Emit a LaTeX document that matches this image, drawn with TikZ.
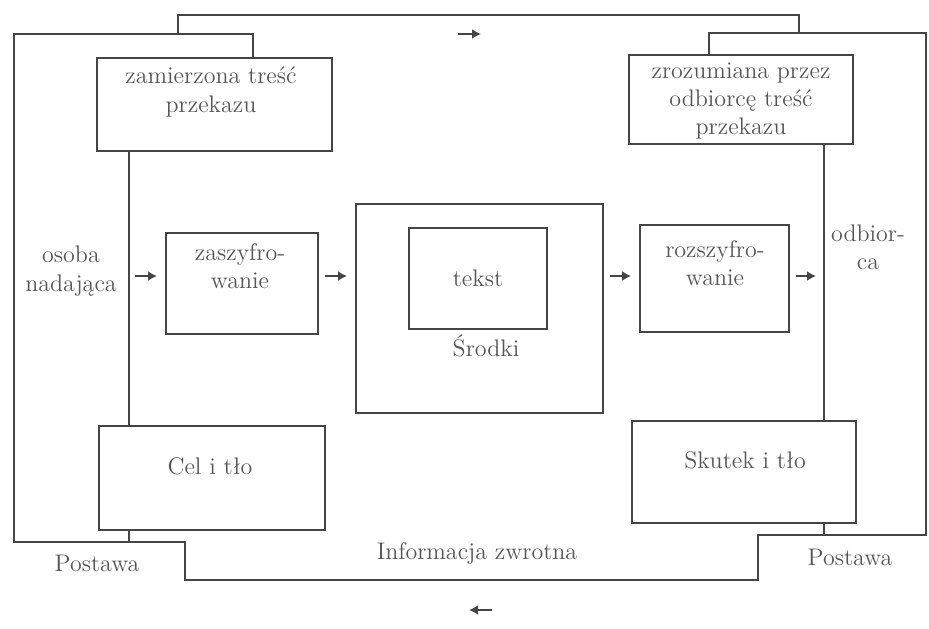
\documentclass[tikz,border=0pt]{standalone}
\usepackage{fontspec}
\usepackage{tikz}
\usepackage{xcolor}
\usetikzlibrary{fit,arrows.meta}
\definecolor{ink}{HTML}{555555}
\definecolor{wire}{HTML}{454545}
\tikzset{
    plain-box/.style = {draw=wire, line width=1pt, rectangle, inner sep=0pt},
    box-text/.style = {text=ink, align=center, font=\fontsize{12}{14.2}\selectfont, inner sep=0pt},
    frame-line/.style = {draw=wire, line width=1pt, line join=miter},
    flow-arrow/.style = {draw=wire, line width=1.3pt, -{Latex[length=4.5pt,width=5pt]}, shorten <=3pt, shorten >=4pt},
    hint-arrow/.style = {draw=wire, line width=1.3pt, -{Latex[length=4.5pt,width=5pt]}},
}

\begin{document}
\begin{tikzpicture}[x=0.5pt, y=-0.5pt]
\useasboundingbox (0,0) rectangle (929,628);

\node[plain-box, fit={(97,58) (332,151)}] (intent) {};
\node[plain-box, fit={(629,55) (853,144)}] (understood) {};
\node[plain-box, fit={(99,426) (325,530)}] (goal) {};
\node[plain-box, fit={(632,421) (856,523)}] (effect) {};
\node[plain-box, fit={(166,233) (318,334)}] (encode) {};
\node[plain-box, fit={(356,204) (603,413)}] (media) {};
\node[plain-box, fit={(409,228) (547,329)}] (message) {};
\node[plain-box, fit={(640,225) (789,332)}] (decode) {};

\node[box-text] (intent-txt) at (211,92) {zamierzona treść\\przekazu};
\node[box-text] (understood-txt) at (741,101) {zrozumiana przez\\odbiorcę treść\\przekazu};
\node[box-text] (goal-txt) at (210,466) {Cel i tło};
\node[box-text] (effect-txt) at (745,460) {Skutek i tło};
\node[box-text] (encode-txt) at (240,266) {zaszyfro-\\wanie};
\node[box-text] (decode-txt) at (715,263) {rozszyfro-\\wanie};
\node[box-text] (message-txt) at (message.center) {tekst};
\node[box-text] (media-txt) at (486,346) {Środki};
\node[box-text] (sender-txt) at (71,271) {osoba\\nadająca};
\node[box-text] (receiver-txt) at (868,247) {odbior-\\ca};
\node[box-text] (attitude-l) at (97,563) {Postawa};
\node[box-text] (attitude-r) at (850,557) {Postawa};
\node[box-text] (feedback-txt) at (477,553) {Informacja zwrotna};

\coordinate (corner-l) at (253,34);
\coordinate (nw) at (14,34);
\coordinate (sw) at (14,542);
\coordinate (step-l1) at (185,542);
\coordinate (step-l2) at (185,580);
\coordinate (step-r2) at (758,580);
\coordinate (step-r1) at (758,535);
\coordinate (se) at (926,535);
\coordinate (ne) at (926,33);
\coordinate (corner-r) at (709,33);
\coordinate (loop-l) at (178,15);
\coordinate (loop-r) at (799,15);
\coordinate (sender) at (129,542);
\coordinate (receiver) at (824,535);
\coordinate (flow) at (0,276);
\coordinate (fwd-a) at (458,34);
\coordinate (fwd-b) at (481,34);
\coordinate (back-a) at (492,610);
\coordinate (back-b) at (469,610);

\draw[frame-line] (intent.north -| corner-l) -- (corner-l) -- (nw) -- (sw) -- (step-l1) -- (step-l2)
    -- (step-r2) -- (step-r1) -- (se) -- (ne) -- (corner-r) -- (understood.north -| corner-r);
\draw[frame-line] (loop-l |- nw) -- (loop-l) -- (loop-r) -- (loop-r |- ne);
\draw[frame-line] (intent.south -| sender) -- (goal.north -| sender);
\draw[frame-line] (goal.south -| sender) -- (sender);
\draw[frame-line] (understood.south -| receiver) -- (effect.north -| receiver);
\draw[frame-line] (effect.south -| receiver) -- (receiver);

\draw[flow-arrow] (sender |- flow) -- (encode.west |- flow);
\draw[flow-arrow] (encode.east |- flow) -- (media.west |- flow);
\draw[flow-arrow] (media.east |- flow) -- (decode.west |- flow);
\draw[flow-arrow] (decode.east |- flow) -- (receiver |- flow);
\draw[hint-arrow] (fwd-a) -- (fwd-b);
\draw[hint-arrow] (back-a) -- (back-b);
\end{tikzpicture}
\end{document}
